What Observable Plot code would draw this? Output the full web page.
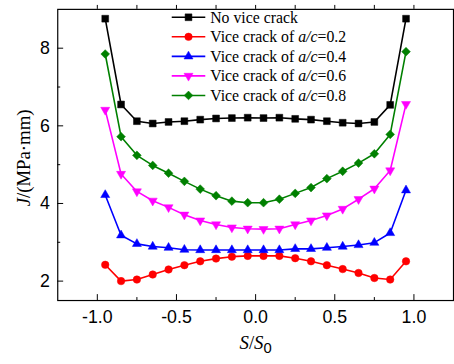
<!DOCTYPE html>
<html><head><meta charset="utf-8">
<script src="https://cdn.jsdelivr.net/npm/d3@7"></script>
<script src="https://cdn.jsdelivr.net/npm/@observablehq/plot@0.6"></script>
<style>html,body{margin:0;padding:0;background:#fff;overflow:hidden;width:454px;height:364px}</style>
</head><body><div id="chart"></div>
<script>
// S/S0 positions
const sValues = [-0.95,-0.85,-0.75,-0.65,-0.55,-0.45,-0.35,-0.25,-0.15,-0.05,0.05,0.15,0.25,0.35,0.45,0.55,0.65,0.75,0.85,0.95];
// J values (MPa·mm)
const noCrack = [8.76,6.55,6.12,6.06,6.10,6.12,6.16,6.19,6.20,6.21,6.20,6.21,6.18,6.16,6.12,6.08,6.06,6.10,6.54,8.76];
const ac02 = [2.42,2.00,2.04,2.17,2.30,2.41,2.51,2.58,2.63,2.65,2.65,2.65,2.59,2.51,2.41,2.31,2.21,2.08,2.04,2.51];
const ac04 = [4.22,3.18,2.96,2.89,2.86,2.81,2.80,2.80,2.80,2.80,2.80,2.80,2.83,2.83,2.86,2.89,2.93,2.99,3.24,4.34];
const ac06 = [6.41,4.76,4.31,4.07,3.90,3.71,3.56,3.46,3.38,3.35,3.34,3.35,3.46,3.56,3.69,3.86,4.11,4.38,4.85,6.56];
const ac08 = [7.85,5.72,5.24,4.98,4.78,4.57,4.37,4.20,4.06,4.02,4.02,4.11,4.26,4.41,4.64,4.83,5.04,5.28,5.78,7.91];

const seriesKeys = ["none","0.2","0.4","0.6","0.8"];
const seriesValues = [noCrack, ac02, ac04, ac06, ac08];
const seriesColors = ["#000000","#ff0000","#0000ff","#ff00ff","#008000"];
const legendPrefix = ["No vice crack","Vice crack of ","Vice crack of ","Vice crack of ","Vice crack of "];
const legendItalic = ["","a/c","a/c","a/c","a/c"];
const legendSuffix = ["","=0.2","=0.4","=0.6","=0.8"];

const xMajorTicks = [-1,-0.5,0,0.5,1];
const xTickLabels = ["-1.0","-0.5","0.0","0.5","1.0"];
const xMinorTicks = [-0.75,-0.25,0.25,0.75];
const yMajorTicks = [2,4,6,8];
const yTickLabels = ["2","4","6","8"];
const yMinorTicks = [3,5,7];

const sqrt3 = Math.sqrt(3);
const triangleDown = {
  draw(context, size) {
    const y = -Math.sqrt(size / (sqrt3 * 3));
    context.moveTo(0, -y * 2);
    context.lineTo(-sqrt3 * y, y);
    context.lineTo(sqrt3 * y, y);
    context.closePath();
  }
};
const seriesSymbols = ["square","circle","triangle",triangleDown,"diamond2"];
const seriesR = [3.9,3.8,3.4,3.4,4.0];

const W = 460, H = 364, ML = 58, MR = 1, MT = 9, MB = 60;
const PW = W - ML - MR, PH = H - MT - MB;

const rows = [];
seriesKeys.forEach((k, si) => sValues.forEach((s, i) => rows.push({series: k, si, s, j: seriesValues[si][i]})));

const marks = [];
seriesKeys.forEach((k, si) => {
  const d = rows.filter(r => r.series === k);
  marks.push(Plot.line(d, {x: "s", y: "j", stroke: seriesColors[si], strokeWidth: 1.6}));
  marks.push(Plot.dot(d, {x: "s", y: "j", symbol: () => seriesSymbols[si], r: seriesR[si], fill: seriesColors[si], stroke: seriesColors[si], strokeWidth: 0.5}));
});

const chart = Plot.plot({
  width: W, height: H, marginLeft: ML, marginRight: MR, marginTop: MT, marginBottom: MB,
  x: {domain: [-1.25, 1.25]},
  y: {domain: [1.5, 9]},
  symbol: {type: "identity"},
  style: {fontFamily: "'Liberation Sans', Arial, sans-serif", fontSize: "18px", color: "#000", background: "#fff"},
  marks: [
    // bottom ticks (inward)
    Plot.tickX(xMajorTicks, {x: d => d, insetTop: PH - 6, stroke: "#000", strokeWidth: 1}),
    Plot.tickX(xMinorTicks, {x: d => d, insetTop: PH - 3, stroke: "#000", strokeWidth: 1}),
    // top ticks
    Plot.tickX(xMajorTicks.concat(xMinorTicks), {x: d => d, insetTop: -4, insetBottom: PH, stroke: "#000", strokeWidth: 1}),
    // left ticks (inward)
    Plot.tickY(yMajorTicks, {y: d => d, insetRight: PW - 6, stroke: "#000", strokeWidth: 1}),
    Plot.tickY(yMinorTicks, {y: d => d, insetRight: PW - 3, stroke: "#000", strokeWidth: 1}),
    Plot.axisX(xMajorTicks, {tickSize: 0, tickPadding: 10, tickFormat: d => xTickLabels[xMajorTicks.indexOf(d)], fontSize: 18, label: null}),
    Plot.axisY(yMajorTicks, {tickSize: 0, tickPadding: 8, tickFormat: d => yTickLabels[yMajorTicks.indexOf(d)], fontSize: 18, label: null}),
    ...marks,
    Plot.frame({stroke: "#000", strokeWidth: 1.2})
  ]
});
document.getElementById("chart").appendChild(chart);

const svg = d3.select(chart);
const serif = "'Liberation Serif', 'Times New Roman', serif";
// y label
const yl = svg.append("text")
  .attr("transform", "translate(30,160) rotate(-90)")
  .attr("text-anchor", "middle")
  .attr("font-family", serif).attr("font-size", 19).attr("fill", "#000");
yl.append("tspan").attr("font-style", "italic").text("J");
yl.append("tspan").text("/(MPa·mm)");
// x label
const xl = svg.append("text")
  .attr("x", 259).attr("y", 354)
  .attr("text-anchor", "middle")
  .attr("font-family", serif).attr("font-size", 19).attr("fill", "#000");
xl.append("tspan").attr("font-style", "italic").text("S");
xl.append("tspan").text("/");
xl.append("tspan").attr("font-style", "italic").text("S");
xl.append("tspan").attr("dy", 4).attr("font-family", "'Liberation Sans', Arial, sans-serif").attr("font-size", 15).text("0");

// legend
const lg = svg.append("g");
seriesKeys.forEach((k, si) => {
  const cy = 17.5 + si * 19.8;
  const g = lg.append("g").attr("transform", `translate(0,${cy})`);
  g.append("line").attr("x1", 174).attr("x2", 208).attr("y1", 0).attr("y2", 0)
    .attr("stroke", seriesColors[si]).attr("stroke-width", 1.6);
  const sym = typeof seriesSymbols[si] === "string"
    ? {square: d3.symbolSquare, circle: d3.symbolCircle, triangle: d3.symbolTriangle, diamond2: d3.symbolDiamond2}[seriesSymbols[si]]
    : seriesSymbols[si];
  g.append("path").attr("transform", "translate(191,0)")
    .attr("d", d3.symbol(sym, Math.PI * seriesR[si] * seriesR[si])())
    .attr("fill", seriesColors[si]).attr("stroke", seriesColors[si]).attr("stroke-width", 0.5);
  const t = g.append("text").attr("x", 213).attr("y", 5.5)
    .attr("text-anchor", "start")
    .attr("font-family", serif).attr("font-size", 16).attr("fill", "#000");
  t.append("tspan").text(legendPrefix[si]);
  if (legendItalic[si]) {
    t.append("tspan").attr("font-style", "italic").text(legendItalic[si]);
    t.append("tspan").text(legendSuffix[si]);
  }
});
</script>
</body></html>
